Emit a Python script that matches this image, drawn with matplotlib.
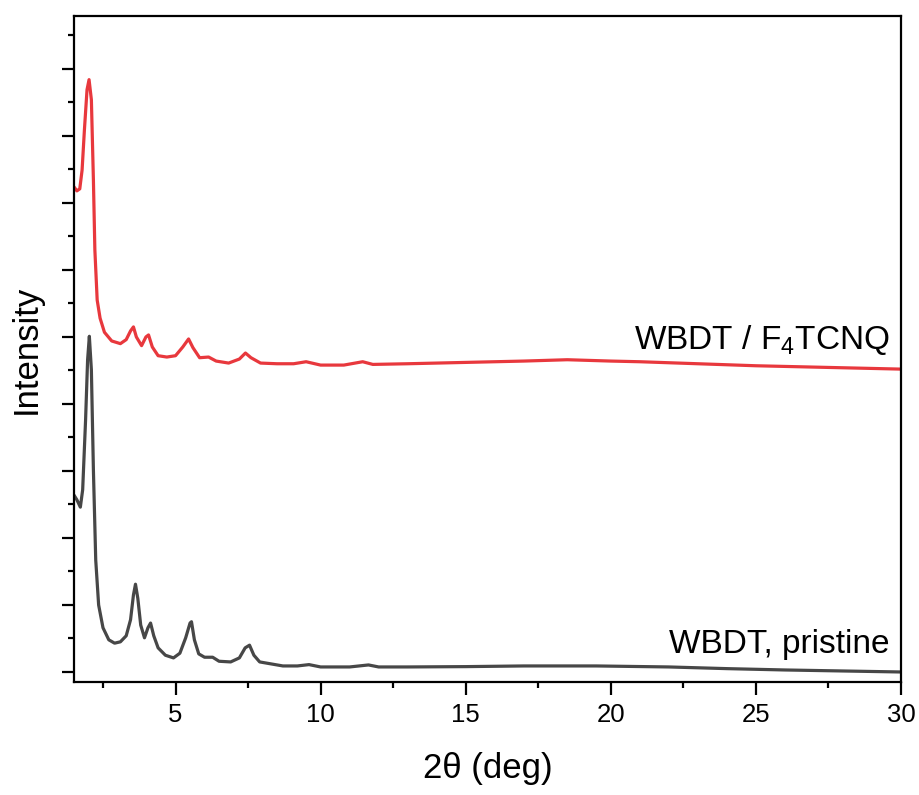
import matplotlib
matplotlib.use("Agg")
import matplotlib.pyplot as plt
from matplotlib.ticker import MultipleLocator, NullFormatter

plt.rcParams['font.family'] = ['Liberation Sans', 'DejaVu Sans']
plt.rcParams['mathtext.fontset'] = 'custom'
plt.rcParams['mathtext.rm'] = 'Liberation Sans'
plt.rcParams['mathtext.default'] = 'regular'

# --- data ---
x_pristine = [1.5, 1.6, 1.72, 1.8, 1.9, 1.97, 2.03, 2.1, 2.17, 2.25, 2.35, 2.5, 2.7, 2.9,
              3.1, 3.3, 3.45, 3.55, 3.62, 3.7, 3.8, 3.93, 4.05, 4.14, 4.25, 4.4, 4.65,
              4.93, 5.15, 5.35, 5.5, 5.55, 5.65, 5.8, 6.0, 6.28, 6.5, 6.9, 7.2, 7.4,
              7.55, 7.7, 7.9, 8.3, 8.7, 9.2, 9.6, 10.0, 10.5, 11.0, 11.65, 12.0, 13.0,
              15.0, 17.0, 19.5, 22.0, 24.0, 26.0, 28.0, 30.0]
y_pristine = [2.64, 2.57, 2.46, 2.72, 3.76, 4.66, 5.01, 4.51, 3.01, 1.67, 1.00, 0.66, 0.48, 0.43,
              0.45, 0.54, 0.78, 1.15, 1.31, 1.10, 0.70, 0.51, 0.66, 0.73, 0.54, 0.36, 0.25,
              0.21, 0.28, 0.51, 0.73, 0.75, 0.48, 0.27, 0.22, 0.22, 0.16, 0.15, 0.21, 0.36,
              0.40, 0.25, 0.15, 0.12, 0.09, 0.09, 0.11, 0.075, 0.075, 0.075, 0.105, 0.075, 0.075,
              0.08, 0.09, 0.09, 0.075, 0.05, 0.03, 0.015, 0.0]

x_doped = [1.5, 1.6, 1.7, 1.78, 1.86, 1.95, 2.02, 2.1, 2.17, 2.22, 2.3, 2.4, 2.55, 2.8,
           3.1, 3.3, 3.45, 3.55, 3.65, 3.83, 3.98, 4.07, 4.2, 4.4, 4.7, 5.0, 5.25,
           5.45, 5.6, 5.83, 6.14, 6.4, 6.83, 7.2, 7.41, 7.6, 7.93, 8.5, 9.07, 9.5,
           10.0, 10.8, 11.45, 11.8, 13.0, 15.0, 17.0, 18.5, 20.0, 21.0, 23.0, 25.0,
           27.0, 30.0]
y_doped = [7.24, 7.18, 7.21, 7.49, 8.09, 8.69, 8.84, 8.54, 7.34, 6.30, 5.55, 5.28, 5.07, 4.94,
           4.90, 4.96, 5.09, 5.15, 5.00, 4.87, 5.00, 5.03, 4.85, 4.72, 4.70, 4.72, 4.85,
           4.97, 4.84, 4.69, 4.70, 4.64, 4.61, 4.67, 4.76, 4.69, 4.61, 4.60, 4.60, 4.63,
           4.58, 4.58, 4.63, 4.59, 4.60, 4.62, 4.64, 4.66, 4.64, 4.63, 4.60, 4.57,
           4.55, 4.52]

label_doped = "WBDT / F$_4$TCNQ"
label_pristine = "WBDT, pristine"
x_ticks = [5, 10, 15, 20, 25, 30]

fig = plt.figure(figsize=(9.2, 7.95), dpi=100)
ax = fig.add_axes([0.0804, 0.1421, 0.8989, 0.8378])

ax.plot(x_pristine, y_pristine, color='#474747', lw=2.3,
        solid_joinstyle='round', solid_capstyle='round')
ax.plot(x_doped, y_doped, color='#e8383d', lw=2.3,
        solid_joinstyle='round', solid_capstyle='round')

ax.set_xlim(1.5, 30)
ax.set_ylim(-0.15, 9.79)

ax.set_xticks(x_ticks)
ax.set_xticklabels([str(t) for t in x_ticks])
ax.xaxis.set_minor_locator(MultipleLocator(2.5))
ax.yaxis.set_major_locator(MultipleLocator(1))
ax.yaxis.set_minor_locator(MultipleLocator(0.5))
ax.yaxis.set_major_formatter(NullFormatter())

ax.tick_params(axis='both', which='major', direction='out', length=9, width=1.6,
               labelsize=18.5, top=False, right=False)
ax.tick_params(axis='both', which='minor', direction='out', length=4.5, width=1.6,
               top=False, right=False)
ax.tick_params(axis='x', which='major', pad=6)
for s in ax.spines.values():
    s.set_linewidth(1.6)

ax.set_xlabel("2\u03b8 (deg)", fontsize=25, labelpad=18)
ax.set_ylabel("Intensity", fontsize=25, labelpad=10)

ax.text(29.6, 4.82, label_doped, ha='right', va='baseline', fontsize=24)
ax.text(29.6, 0.28, label_pristine, ha='right', va='baseline', fontsize=24)

fig.savefig("out.png", dpi=100)
